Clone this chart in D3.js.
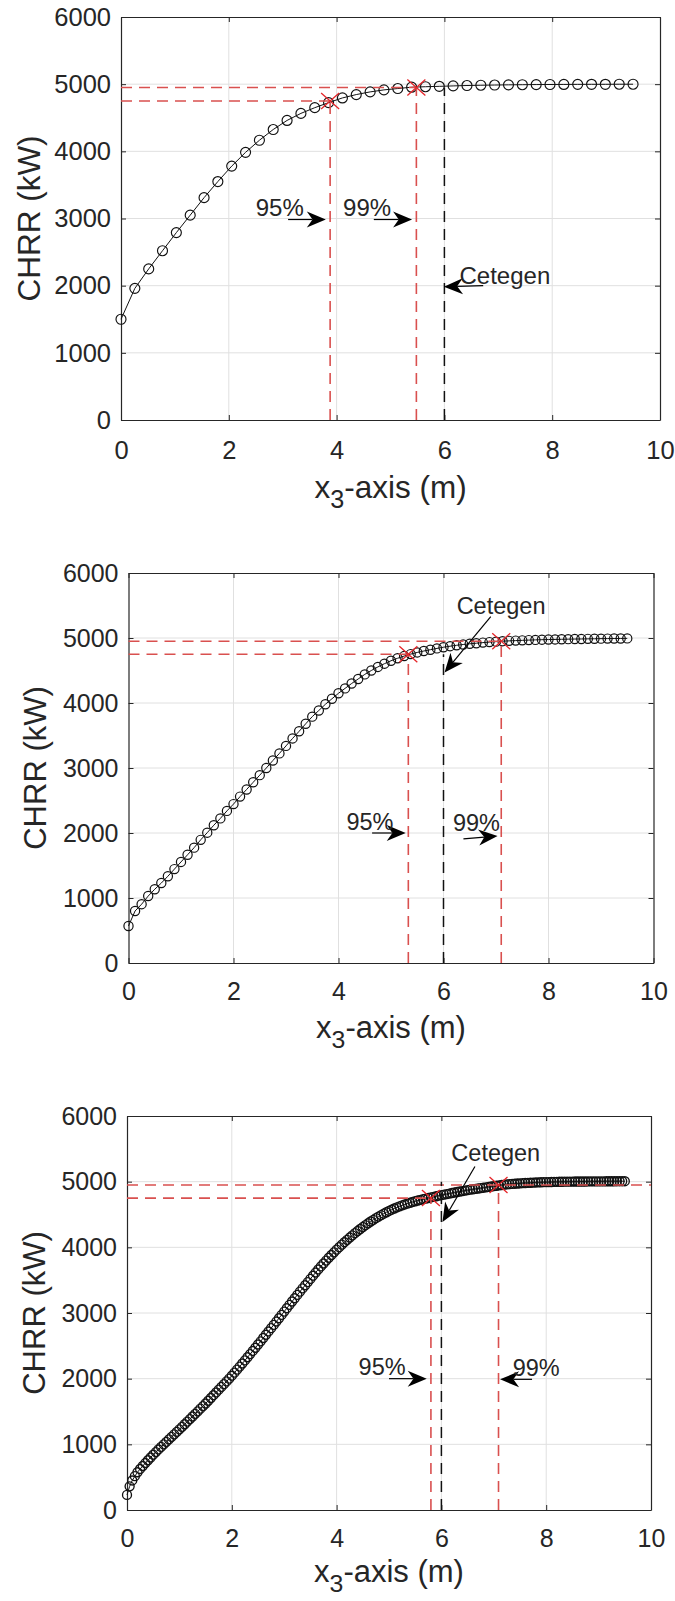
<!DOCTYPE html>
<html>
<head>
<meta charset="utf-8">
<script src="https://cdn.jsdelivr.net/npm/d3@7"></script>
<style>
  body { margin: 0; background: #fff; }
  svg { display: block; }
  text { font-family: "Liberation Sans", Arial, sans-serif; fill: #262626; }
</style>
</head>
<body>
<div id="chart"></div>
<script>
// ---- data ----
var xTicks = [0, 2, 4, 6, 8, 10];
var yTicks = [0, 1000, 2000, 3000, 4000, 5000, 6000];

// panel 1 (coarse grid)
var xPos1 = [0, 0.257, 0.514, 0.770, 1.027, 1.284, 1.541, 1.797, 2.054, 2.311, 2.568, 2.824, 3.081,
  3.338, 3.595, 3.851, 4.108, 4.365, 4.622, 4.878, 5.135, 5.392, 5.649, 5.905, 6.162, 6.419, 6.676,
  6.932, 7.189, 7.446, 7.703, 7.959, 8.216, 8.473, 8.730, 8.986, 9.243, 9.5];
var chrr1 = [1500, 1960, 2250, 2520, 2790, 3050, 3310, 3550, 3780, 3985, 4165, 4325, 4460,
  4565, 4650, 4725, 4795, 4845, 4885, 4915, 4935, 4955, 4962, 4968, 4974, 4980, 4984,
  4987, 4990, 4992, 4994, 4995, 4996, 4997, 4998, 4998, 4999, 4999];

// panel 2 (medium grid)
var xPos2 = [0, 0.125, 0.25, 0.375, 0.5, 0.625, 0.75, 0.875, 1, 1.125, 1.25, 1.375, 1.5, 1.625, 1.75, 1.875,
  2, 2.125, 2.25, 2.375, 2.5, 2.625, 2.75, 2.875, 3, 3.125, 3.25, 3.375, 3.5, 3.625, 3.75, 3.875,
  4, 4.125, 4.25, 4.375, 4.5, 4.625, 4.75, 4.875, 5, 5.125, 5.25, 5.375, 5.5, 5.625, 5.75, 5.875,
  6, 6.125, 6.25, 6.375, 6.5, 6.625, 6.75, 6.875, 7, 7.125, 7.25, 7.375, 7.5, 7.625, 7.75, 7.875,
  8, 8.125, 8.25, 8.375, 8.5, 8.625, 8.75, 8.875, 9, 9.125, 9.25, 9.375, 9.5];
var chrr2 = [570, 800, 905, 1030, 1135, 1230, 1335, 1445, 1555, 1665, 1775, 1895, 2005, 2120, 2225, 2340,
  2445, 2560, 2670, 2780, 2890, 3000, 3115, 3225, 3340, 3455, 3565, 3680, 3790, 3885, 3980, 4065,
  4150, 4225, 4300, 4370, 4440, 4500, 4555, 4605, 4650, 4688, 4722, 4752, 4778, 4800, 4820, 4840,
  4858, 4874, 4888, 4900, 4911, 4920, 4929, 4937, 4944, 4951, 4956, 4960, 4964, 4968, 4971, 4974,
  4976, 4978, 4980, 4982, 4984, 4985, 4987, 4988, 4990, 4991, 4992, 4993, 4994];

// panel 3 (fine grid)
var xPos3 = [0, 0.05, 0.1, 0.15, 0.2, 0.25, 0.3, 0.35, 0.4, 0.45, 0.5, 0.55, 0.6, 0.65, 0.7, 0.75, 0.8, 0.85, 0.9, 0.95,
  1, 1.05, 1.1, 1.15, 1.2, 1.25, 1.3, 1.35, 1.4, 1.45, 1.5, 1.55, 1.6, 1.65, 1.7, 1.75, 1.8, 1.85, 1.9, 1.95,
  2, 2.05, 2.1, 2.15, 2.2, 2.25, 2.3, 2.35, 2.4, 2.45, 2.5, 2.55, 2.6, 2.65, 2.7, 2.75, 2.8, 2.85, 2.9, 2.95,
  3, 3.05, 3.1, 3.15, 3.2, 3.25, 3.3, 3.35, 3.4, 3.45, 3.5, 3.55, 3.6, 3.65, 3.7, 3.75, 3.8, 3.85, 3.9, 3.95,
  4, 4.05, 4.1, 4.15, 4.2, 4.25, 4.3, 4.35, 4.4, 4.45, 4.5, 4.55, 4.6, 4.65, 4.7, 4.75, 4.8, 4.85, 4.9, 4.95,
  5, 5.05, 5.1, 5.15, 5.2, 5.25, 5.3, 5.35, 5.4, 5.45, 5.5, 5.55, 5.6, 5.65, 5.7, 5.75, 5.8, 5.85, 5.9, 5.95,
  6, 6.05, 6.1, 6.15, 6.2, 6.25, 6.3, 6.35, 6.4, 6.45, 6.5, 6.55, 6.6, 6.65, 6.7, 6.75, 6.8, 6.85, 6.9, 6.95,
  7, 7.05, 7.1, 7.15, 7.2, 7.25, 7.3, 7.35, 7.4, 7.45, 7.5, 7.55, 7.6, 7.65, 7.7, 7.75, 7.8, 7.85, 7.9, 7.95,
  8, 8.05, 8.1, 8.15, 8.2, 8.25, 8.3, 8.35, 8.4, 8.45, 8.5, 8.55, 8.6, 8.65, 8.7, 8.75, 8.8, 8.85, 8.9, 8.95,
  9, 9.05, 9.1, 9.15, 9.2, 9.25, 9.3, 9.35, 9.4, 9.45, 9.5];
var chrr3 = [230, 360, 450, 515, 575, 625, 670, 715, 758, 800, 842, 882, 922, 961, 1000, 1038, 1076, 1114, 1152, 1190,
  1228, 1267, 1306, 1346, 1385, 1424, 1464, 1503, 1543, 1582, 1622, 1664, 1706, 1748, 1790, 1832, 1874, 1916, 1958, 2000,
  2045, 2091, 2137, 2184, 2231, 2278, 2326, 2374, 2422, 2471, 2520, 2569, 2619, 2669, 2719, 2769, 2819, 2870, 2920, 2971,
  3022, 3073, 3124, 3175, 3225, 3275, 3325, 3374, 3423, 3471, 3519, 3568, 3616, 3663, 3709, 3754, 3798, 3841, 3883, 3924,
  3964, 4003, 4041, 4078, 4114, 4149, 4183, 4216, 4248, 4279, 4309, 4338, 4366, 4393, 4419, 4444, 4468, 4491, 4513, 4534,
  4554, 4573, 4591, 4608, 4624, 4639, 4653, 4666, 4679, 4691, 4702, 4713, 4723, 4733, 4742, 4751, 4760, 4769, 4778, 4787,
  4795, 4803, 4811, 4819, 4827, 4835, 4843, 4850, 4857, 4864, 4871, 4878, 4884, 4890, 4896, 4902, 4908, 4914, 4920, 4926,
  4932, 4938, 4944, 4949, 4954, 4958, 4962, 4966, 4969, 4972, 4975, 4978, 4980, 4982, 4984, 4986, 4988, 4989, 4991, 4992,
  4993, 4994, 4995, 4996, 4997, 4998, 4999, 5000, 5000, 5001, 5001, 5002, 5002, 5003, 5003, 5003, 5004, 5004, 5004, 5005,
  5005, 5005, 5005, 5006, 5006, 5006, 5006, 5007, 5007, 5007, 5007];

// 95 % / 99 % levels and where each panel reaches them
var level95 = 4750;
var level99 = 4950;
var reach95 = [3.88, 5.33, 5.80];
var reach99 = [5.48, 7.10, 7.09];
var line99End = [5.48, 7.10, 10];   // last panel: 99% line runs across
var cetegenX = 6;
var cetegenTop = [4950, 4750, 5000];

// text arrows [label, tailX, tailY, headX, headY, textX, textBaseY]
var notes1 = [
  ["95%", 3.10, 2985, 3.80, 2985, 2.50, 3040],
  ["99%", 4.69, 2985, 5.40, 2985, 4.12, 3040],
  ["Cetegen", 6.72, 2000, 5.99, 1985, 6.28, 2020]
];
var notes2 = [
  ["Cetegen", 6.90, 5330, 6.02, 4470, 6.25, 5370],
  ["95%", 4.64, 2000, 5.28, 2000, 4.15, 2045],
  ["99%", 6.38, 1910, 7.03, 1955, 6.18, 2025]
];
var notes3 = [
  ["Cetegen", 6.64, 5231, 6.02, 4385, 6.19, 5308],
  ["95%", 5.00, 2000, 5.72, 2000, 4.42, 2050],
  ["99%", 7.73, 1990, 7.12, 1990, 7.36, 2040]
];

var seriesX = [xPos1, xPos2, xPos3];
var seriesY = [chrr1, chrr2, chrr3];
var notes = [notes1, notes2, notes3];

// ---- layout ----
var svgWidth = 675;
var svgHeight = 1601;

var panels = [
  {left: 121, right: 660, top: 17, bottom: 420, tickFont: 25.5, labelFont: 31.5, noteFont: 24, r: 5, sw: 1.15, yLabelX: 40, tickBase: 39, labelBase: 78},
  {left: 128.5, right: 653.5, top: 573, bottom: 963, tickFont: 25, labelFont: 31, noteFont: 23.5, r: 4.6, sw: 1.2, yLabelX: 46, tickBase: 37, labelBase: 75},
  {left: 127, right: 651, top: 1116, bottom: 1510, tickFont: 25, labelFont: 31, noteFont: 23.5, r: 4.5, sw: 1.35, yLabelX: 45, tickBase: 37, labelBase: 72}
];

var svg = d3.select("#chart")
  .append("svg")
  .attr("width", svgWidth)
  .attr("height", svgHeight);

var redDash = "#d9504f";

panels.forEach(function(p, i) {
  var x = d3.scaleLinear().domain([0, 10]).range([p.left, p.right]);
  var y = d3.scaleLinear().domain([0, 6000]).range([p.bottom, p.top]);
  var g = svg.append("g");

  // grid
  g.append("g").selectAll("line")
    .data(xTicks.slice(1, -1))
    .enter().append("line")
    .attr("x1", d => x(d)).attr("x2", d => x(d))
    .attr("y1", p.top).attr("y2", p.bottom)
    .attr("stroke", "#e0e0e0").attr("stroke-width", 1);
  g.append("g").selectAll("line")
    .data(yTicks.slice(1, -1))
    .enter().append("line")
    .attr("x1", p.left).attr("x2", p.right)
    .attr("y1", d => y(d)).attr("y2", d => y(d))
    .attr("stroke", "#e0e0e0").attr("stroke-width", 1);

  // axes (box with inward ticks)
  var bottomAxis = d3.axisBottom(x).tickValues(xTicks).tickFormat(d3.format("d"))
    .tickSizeInner(-5).tickSizeOuter(0)
    .tickPadding(p.tickBase - 0.71 * p.tickFont);
  var leftAxis = d3.axisLeft(y).tickValues(yTicks).tickFormat(d3.format("d"))
    .tickSizeInner(-5).tickSizeOuter(0)
    .tickPadding(10);
  var topAxis = d3.axisTop(x).tickValues(xTicks).tickSizeInner(-5).tickSizeOuter(0).tickFormat("");
  var rightAxis = d3.axisRight(y).tickValues(yTicks).tickSizeInner(-5).tickSizeOuter(0).tickFormat("");

  var axes = [
    g.append("g").attr("transform", `translate(0,${p.bottom})`).call(bottomAxis),
    g.append("g").attr("transform", `translate(${p.left},0)`).call(leftAxis),
    g.append("g").attr("transform", `translate(0,${p.top})`).call(topAxis),
    g.append("g").attr("transform", `translate(${p.right},0)`).call(rightAxis)
  ];
  axes.forEach(function(a) {
    a.attr("font-size", p.tickFont).attr("font-family", null);
    a.select(".domain").attr("stroke", "#262626").attr("stroke-width", 1.2);
    a.selectAll(".tick line").attr("stroke", "#262626");
    a.selectAll(".tick text").attr("fill", "#262626");
  });

  // series: thin line + open circles
  var pts = d3.zip(seriesX[i], seriesY[i]);
  g.append("path")
    .datum(pts)
    .attr("fill", "none")
    .attr("stroke", "#111")
    .attr("stroke-width", 1)
    .attr("d", d3.line().x(d => x(d[0])).y(d => y(d[1])));
  g.append("g").selectAll("circle")
    .data(pts)
    .enter().append("circle")
    .attr("cx", d => x(d[0]))
    .attr("cy", d => y(d[1]))
    .attr("r", p.r)
    .attr("fill", "none")
    .attr("stroke", "#111")
    .attr("stroke-width", p.sw);

  // 95% / 99% guide lines
  var guides = [
    [0, level95, reach95[i], level95],
    [0, level99, line99End[i], level99],
    [reach95[i], 0, reach95[i], level95],
    [reach99[i], 0, reach99[i], level99]
  ];
  g.append("g").selectAll("line")
    .data(guides)
    .enter().append("line")
    .attr("x1", d => x(d[0])).attr("y1", d => y(d[1]))
    .attr("x2", d => x(d[2])).attr("y2", d => y(d[3]))
    .attr("stroke", redDash)
    .attr("stroke-width", 1.6)
    .attr("stroke-dasharray", "11,7");

  // Cetegen line
  g.append("line")
    .attr("x1", x(cetegenX)).attr("x2", x(cetegenX))
    .attr("y1", y(0)).attr("y2", y(cetegenTop[i]))
    .attr("stroke", "#111")
    .attr("stroke-width", 1.5)
    .attr("stroke-dasharray", "11,7");

  // red x markers
  g.append("g").selectAll("path")
    .data([[reach95[i], level95], [reach99[i], level99]])
    .enter().append("path")
    .attr("transform", d => `translate(${x(d[0])},${y(d[1])})`)
    .attr("d", "M-9,-8L9,8M-9,8L9,-8")
    .attr("stroke", "#e5262a")
    .attr("stroke-width", 1.3)
    .attr("fill", "none");

  // text arrows
  notes[i].forEach(function(n) {
    var tx = x(n[1]), ty = y(n[2]), hx = x(n[3]), hy = y(n[4]);
    var len = Math.hypot(hx - tx, hy - ty);
    var ux = (hx - tx) / len, uy = (hy - ty) / len;
    var nx = -uy, ny = ux;
    var L = 19, W = 8;
    var bx = hx - ux * L, by = hy - uy * L;
    var kx = hx - ux * L * 0.7, ky = hy - uy * L * 0.7;
    g.append("line")
      .attr("x1", tx).attr("y1", ty)
      .attr("x2", kx).attr("y2", ky)
      .attr("stroke", "#000").attr("stroke-width", 1.2);
    g.append("path")
      .attr("d", `M${hx},${hy}L${bx + nx * W},${by + ny * W}L${kx},${ky}L${bx - nx * W},${by - ny * W}Z`)
      .attr("fill", "#000");
    g.append("text")
      .attr("x", x(n[5]))
      .attr("y", y(n[6]))
      .attr("font-size", p.noteFont)
      .attr("fill", "#111")
      .text(n[0]);
  });

  // axis titles
  var xl = g.append("text")
    .attr("x", (p.left + p.right) / 2)
    .attr("y", p.bottom + p.labelBase)
    .attr("text-anchor", "middle")
    .attr("font-size", p.labelFont);
  xl.append("tspan").text("x");
  xl.append("tspan").attr("font-size", p.labelFont * 0.8).attr("dy", 10).text("3");
  xl.append("tspan").attr("dy", -10).text("-axis (m)");

  g.append("text")
    .attr("transform", `translate(${p.yLabelX},${(p.top + p.bottom) / 2})rotate(-90)`)
    .attr("text-anchor", "middle")
    .attr("font-size", p.labelFont)
    .text("CHRR (kW)");
});
</script>
</body>
</html>
